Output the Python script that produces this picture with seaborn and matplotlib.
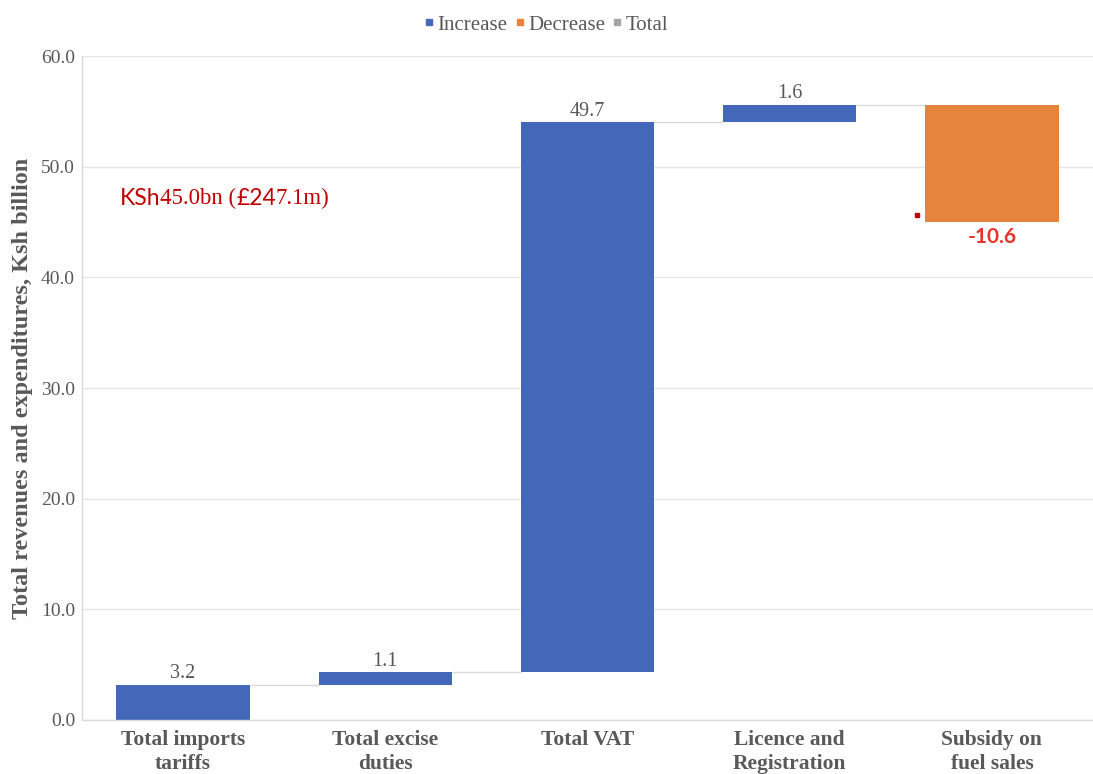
import matplotlib
matplotlib.use("Agg")
import numpy as np
import pandas as pd
import matplotlib.pyplot as plt
import seaborn as sns
from matplotlib.lines import Line2D

# ------------------------------------------------------------
# Datos
# ------------------------------------------------------------
categories = ["Total imports\ntariffs", "Total excise\nduties", "Total VAT",
              "Licence and\nRegistration", "Subsidy on\nfuel sales"]
changes = [3.2, 1.1, 49.7, 1.6, -10.6]
kinds = ["Increase", "Increase", "Increase", "Increase", "Decrease"]
legend_labels = ["Increase", "Decrease", "Total"]
y_ticks = [0, 10, 20, 30, 40, 50, 60]
note_pieces = ["KSh", "45.0bn (", "£24", "7.1m)"]

palette = {"Increase": "#4368B9", "Decrease": "#E6843E", "Total": "#A5A5A5"}
grey = "#595959"
serif = ["Liberation Serif", "DejaVu Serif"]
sans = ["Lato", "DejaVu Sans"]

ends = np.cumsum(changes)
starts = ends - np.array(changes)

df = pd.DataFrame({"category": categories, "change": changes, "kind": kinds})

sns.set_theme(style="white")
plt.rcParams["font.family"] = serif

fig = plt.figure(figsize=(10.93, 7.74), dpi=100)
ax = fig.add_axes([0.075, 0.0698, 0.925, 0.8578])

sns.barplot(data=df, x="category", y="change", hue="kind", palette=palette,
            dodge=False, width=0.66, saturation=1, legend=False, linewidth=0, ax=ax)

# convertir barras en cascada
for p in ax.patches:
    i = int(round(p.get_x() + p.get_width() / 2))
    p.set_y(starts[i])
    p.set_height(changes[i])

# conectores entre barras
for i in range(len(changes) - 1):
    ax.hlines(ends[i], i + 0.33, i + 1 - 0.33, color="#D9D9D9", lw=1, zorder=0)

# etiquetas de valor
for i, (c, e) in enumerate(zip(changes, ends)):
    if c >= 0:
        ax.annotate(f"{c:.1f}", (i, e), xytext=(0, 1), textcoords="offset points",
                    ha="center", va="bottom", fontsize=14.5, color=grey)
    else:
        ax.annotate(f"{c:.1f}", (i, e), xytext=(0, -3.5), textcoords="offset points",
                    ha="center", va="top", fontsize=15, color="#E8342B",
                    fontweight="bold", family=sans)
        ax.plot(i - 0.37, e + 0.6, marker="s", ms=2.5, color="#C00000", ls="", zorder=5)

# nota en rojo con fuentes mezcladas
fams = [sans, serif, sans, serif]
t = ax.text(0.037, 0.77, note_pieces[0], transform=ax.transAxes, ha="left", va="bottom",
            fontsize=16.5, color="#C00000", family=fams[0])
for s, fam in zip(note_pieces[1:], fams[1:]):
    t = ax.annotate(s, xy=(1, 0), xycoords=t, ha="left", va="bottom",
                    fontsize=16.5, color="#C00000", family=fam)

# ejes
ax.set_xlim(-0.5, 4.5)
ax.set_ylim(0, 60)
ax.set_yticks(y_ticks)
ax.set_yticklabels([f"{v:.1f}" for v in y_ticks])
ax.yaxis.grid(True, color="#E6E6E6", lw=1)
ax.set_axisbelow(True)
for side in ["top", "right"]:
    ax.spines[side].set_visible(False)
for side in ["left", "bottom"]:
    ax.spines[side].set_color("#D9D9D9")
    ax.spines[side].set_linewidth(1)
ax.tick_params(axis="y", length=0, labelsize=14, colors=grey, pad=5)
ax.tick_params(axis="x", length=0, labelsize=15.5, colors=grey, pad=7)
for lbl in ax.get_xticklabels():
    lbl.set_fontweight("bold")
    lbl.set_linespacing(1.3)
ax.set_xlabel("")
ax.set_ylabel("Total revenues and expenditures, Ksh billion", fontsize=17.5,
              fontweight="bold", color=grey, labelpad=6)

handles = [Line2D([], [], ls="", marker="s", ms=4, color=palette[k]) for k in legend_labels]
fig.legend(handles, legend_labels, loc="center", bbox_to_anchor=(0.5, 0.968), ncol=3,
           frameon=False, fontsize=15, handlelength=0.4, handletextpad=0.2,
           columnspacing=0.4, labelcolor=grey)

fig.savefig("out.png", dpi=100)
plt.close(fig)
